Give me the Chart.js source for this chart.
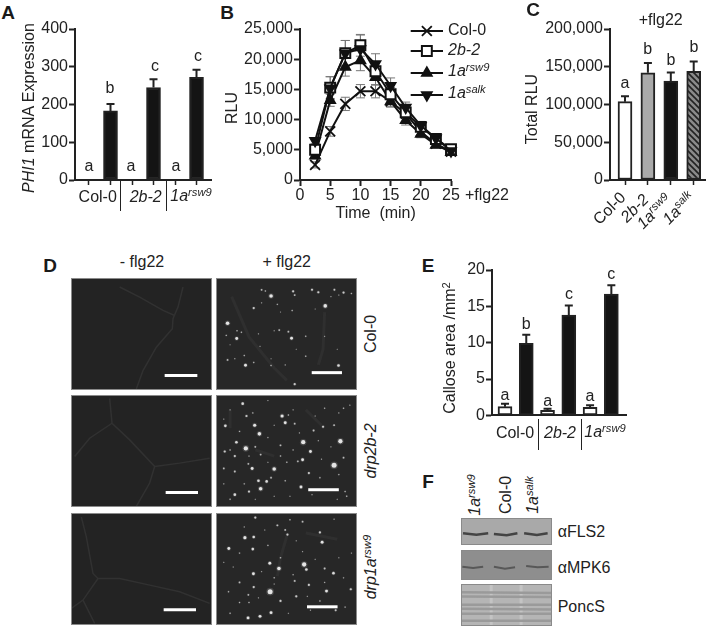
<!DOCTYPE html>
<html><head><meta charset="utf-8">
<script src="https://cdn.jsdelivr.net/npm/chart.js@4"></script>
<style>
html,body{margin:0;padding:0;background:#fff;width:709px;height:626px;overflow:hidden}
canvas{position:absolute}
.t{position:absolute;font:16px 'Liberation Sans',Arial,sans-serif;color:#222;white-space:pre;line-height:1}
.t sup{font-size:70%;line-height:0;vertical-align:baseline;position:relative;top:-.45em}
.h{font-weight:bold;font-size:19px;color:#1a1a1a}
.sep{position:absolute;width:1px;background:#222}
.img{filter:blur(.6px);outline:1px solid #8a8a8a;outline-offset:-1px}
</style></head><body>
<script>
// ---------- data ----------
const barIdx6=[0,1,2,3,4,5];
const phi1Values=[0,183,0,245,0,272];
const phi1Errors=[0,18,0,22,0,20];
const phi1Letters=['a','b','a','c','a','c'];

const timeMin=[2.5,5,7.5,10,12.5,15,17.5,20,22.5,25];
const rluCol0=[2500,8050,12600,14700,14700,13000,11000,8000,6000,4700];
const rlu2b2=[5000,15300,21000,22300,18000,14200,11200,8800,6800,5100];
const rluRsw9=[4000,13200,18700,19800,17000,13000,9900,7600,5800,4600];
const rluSalk=[6500,15200,21000,21700,19200,15600,12000,9000,6900,4800];
const errCol0=[500,800,1100,1100,1100,900,800,600,500,400];
const err2b2=[500,1800,2100,1800,1500,1100,800,700,500,400];
const errRsw9=[500,1000,1500,1700,1300,900,800,600,500,400];
const errSalk=[500,1900,2100,2300,1700,1300,900,700,500,400];

const totalIdx=[0,1,2,3];
const totalValues=[103800,142000,131000,144000];
const totalErrors=[7000,13000,11500,13000];
const totalLetters=['a','b','b','b'];

const calloseValues=[1.2,9.9,0.7,13.8,1.1,16.7];
const calloseErrors=[0.4,1.2,0.2,1.3,0.3,1.2];
const calloseLetters=['a','b','a','c','a','c'];

// micrograph features: [x, y, radius]
const dotsCol0=[[690,128,2.5],[552,216,2.5],[862,160,2.5],[581,265,2],[755,264,2],[609,351,2],[904,352,1.8],[765,412,1.5],[820,108,1.5],[840,116,1.5],[891,108,1.3],[920,117,1.5],[760,113,1.5],[660,108,1.2],[672,112,1],[635,167,1.5],[710,155,1],[757,175,1],[552,334,1.2],[605,320,1],[745,243,1.2],[716,238,1.2],[800,258,1],[690,352,1],[800,322,1],[635,342,1],[582,240,1],[596,245,1],[735,350,.8],[548,255,1],[765,125,1.2],[905,125,.8],[660,150,.8],[700,240,.8],[860,258,.8],[575,330,.8],[650,250,.8],[655,290,.8],[880,130,.8],[945,120,1],[720,180,.7],[830,170,.7],[690,330,.7],[770,300,.7],[900,300,.7],[560,285,.7]];
const dots2b2=[[545,522,1.8],[600,450,1.8],[612,490,1.5],[632,480,1],[638,520,2.2],[653,548,2.5],[725,490,2.2],[745,487,1],[735,512,2],[765,515,1.2],[855,525,1.5],[825,537,1.3],[890,520,1.2],[792,575,3],[910,572,3],[580,575,1.8],[610,595,3],[543,605,1.5],[575,620,1.5],[640,590,1.2],[657,615,1.2],[815,605,2],[720,585,1.2],[790,632,2],[775,637,1.2],[890,650,3.5],[920,625,1.2],[630,660,2],[618,645,1.2],[700,662,2.5],[540,660,1.2],[575,670,1.3],[650,700,1.8],[676,702,1.8],[657,726,2.5],[575,745,1.8],[605,710,1],[785,720,2],[810,675,1.5],[845,690,1],[905,680,1],[925,735,1],[930,750,1],[870,730,1],[540,710,.9],[620,735,1.5],[690,690,1.2],[735,700,1],[740,640,1],[720,620,1],[760,600,.9],[560,600,1],[590,540,1],[680,560,.9],[620,620,.9],[860,465,.9],[920,465,1],[940,455,.8],[905,480,.8],[830,490,.8],[680,440,.8],[760,470,.8],[560,470,.8],[540,500,.8],[700,520,.8],[780,545,.8],[840,570,.8],[880,590,.8],[680,640,.8],[850,630,.8],[560,760,1],[640,760,.8],[700,750,.8],[750,750,.8],[820,745,.8],[900,760,.8]];
const dotsRsw9=[[607,855,2.2],[635,853,1.8],[556,890,2],[632,892,1.8],[686,938,2],[634,972,2],[795,942,3],[802,958,1.8],[888,970,1.8],[852,870,2],[845,838,1.5],[790,803,1.2],[715,955,2.5],[687,1030,3.5],[866,1028,2],[943,1022,1.5],[810,1008,1.5],[770,1045,1.5],[720,1060,1.5],[690,1098,2],[655,1110,2],[617,1115,2],[860,1000,.9],[590,1000,1.2],[618,1040,1.2],[635,1015,1.5],[765,995,1.3],[760,975,.9],[742,845,1.5],[710,815,1.3],[735,830,1.2],[590,905,1],[680,880,1],[860,955,1.3],[920,985,.9],[845,1060,1],[895,1090,1.3],[925,1080,1],[640,790,1.5],[750,797,1],[890,795,.8],[620,1065,1],[590,1065,1],[555,1030,1],[570,950,.8],[660,965,.8],[720,920,1],[790,900,.8],[830,925,.8],[650,1050,.8],[745,1100,.8],[815,1090,.8],[560,1100,1],[700,985,1],[700,1005,.8],[905,920,.8],[945,905,.8],[540,935,.8],[605,820,.8],[670,830,.8],[770,865,.8],[805,1045,.8]];
const veinsL1=[[[240,110],[300,140],[370,180],[405,195]],[[430,110],[415,170],[400,205],[398,235],[350,290],[310,360],[290,415]]];
const veinsL2=[[[210,445],[217,520],[150,565],[105,620]],[[217,520],[270,570],[345,650],[330,700],[290,770]],[[345,650],[420,640],[510,625]]];
const veinsL3=[[[125,800],[140,860],[160,970],[175,985],[130,1050],[95,1075]],[[175,985],[240,985],[330,1005],[420,1025],[510,1060]],[[130,1050],[165,1120]]];
const veinsR1=[[[565,130],[620,260],[700,360],[740,400]],[[860,180],[855,300],[840,350]]];
const veinsR2=[[[560,470],[560,530]],[[800,470],[850,520]],[[640,600],[700,620]]];
const veinsR3=[[[740,850],[720,920],[710,980]],[[800,840],[900,860]]];
const barsL=[[375,473,375],[378,475,728],[372,469,1079]];
const barsR=[[819,915,375],[808,905,729],[804,901,1079]];

// blot bands
const bandsFLS2=[[[130,206],[170,210],[205,206]],[[222,208],[260,212],[292,206]],[[312,206],[350,211],[382,206]]];
const bandsMPK6=[[[128,304],[160,308],[190,304]],[[222,304],[255,310],[285,306]],[[318,302],[352,306],[385,304]]];
const bandsPonc=[[[124,382],[395,384]],[[124,395],[395,396]],[[124,420],[395,420]],[[124,432],[395,434]],[[124,447],[395,447]],[[124,468],[395,468]]];
const laneGaps=[[[214,357],[214,484]],[[303,357],[303,484]]];

// ---------- helpers ----------
const INK='#222';
const FONT="'Liberation Sans', Arial, sans-serif";
Chart.defaults.font.family=FONT;
Chart.defaults.font.size=16;
Chart.defaults.color=INK;
Chart.defaults.animation=false;
Chart.defaults.responsive=false;

function T(html,x,y,o={}){
  const e=document.createElement('div');e.className='t '+(o.cls||'');e.innerHTML=html;
  e.style.left=x+'px';e.style.top=y+'px';
  const r=o.rot||0;
  if(o.right){e.style.transformOrigin='100% 50%';e.style.transform=`translate(-100%,-50%) rotate(${r}deg)`;}
  else if(o.left){e.style.transform='translateY(-50%)';}
  else{e.style.transform=`translate(-50%,-50%) rotate(${r}deg)`;}
  if(o.size)e.style.fontSize=o.size+'px';
  document.body.appendChild(e);
}
function sep(x,y0,y1){const d=document.createElement('div');d.className='sep';d.style.left=Math.round(x)+'px';d.style.top=y0+'px';d.style.height=(y1-y0)+'px';document.body.appendChild(d);}
function cv(l,t,w,h,cls){const c=document.createElement('canvas');c.width=w;c.height=h;c.style.left=l+'px';c.style.top=t+'px';c.style.width=w+'px';c.style.height=h+'px';if(cls)c.className=cls;document.body.appendChild(c);return c;}

const errPlugin={id:'errs',
  beforeDatasetsDraw(ch,a,o){if(o.behind)drawErr(ch,o);},
  afterDatasetsDraw(ch,a,o){if(!o.behind)drawErr(ch,o);}};
function drawErr(ch,o){
  const c=ch.ctx,X=ch.scales.x,Y=ch.scales.y;c.save();c.strokeStyle=o.color;c.lineWidth=o.lw;
  o.sets.forEach(s=>s.x.forEach((xv,i)=>{
    if(!s.e[i])return;
    const px=X.getPixelForValue(xv),t=Y.getPixelForValue(s.y[i]+s.e[i]),m=Y.getPixelForValue(s.y[i]),b=o.both?Y.getPixelForValue(s.y[i]-s.e[i]):m;
    c.beginPath();c.moveTo(px,b);c.lineTo(px,t);c.moveTo(px-o.cap,t);c.lineTo(px+o.cap,t);
    if(o.both){c.moveTo(px-o.cap,b);c.lineTo(px+o.cap,b);}
    c.stroke();
  }));c.restore();
}
function yAxis(max,step,w,fmt){return{type:'linear',min:0,max,
  afterFit(s){s.width=w;},
  ticks:{stepSize:step,padding:1,color:INK,font:{size:16},callback:fmt||(v=>v)},
  grid:{drawOnChartArea:false,drawTicks:true,tickLength:6,tickWidth:2,tickColor:INK},
  border:{display:true,width:2,color:INK}};}
function xBarAxis(idx,min,max,h,tick){return{type:'linear',min,max,offset:false,
  afterBuildTicks(a){a.ticks=idx.map(v=>({value:v}));},
  afterFit(s){s.height=h;},
  ticks:{display:true,callback:()=>'',padding:0,autoSkip:false,maxRotation:0,font:{size:1}},
  grid:{offset:false,drawOnChartArea:false,drawTicks:tick,tickLength:5,tickWidth:1.5,tickColor:INK},
  border:{display:true,width:2,color:INK}};}
function barChart(c,idx,vals,errs,fills,xs,ys,pad){
  return new Chart(c,{type:'bar',plugins:[errPlugin],
    data:{datasets:[{data:idx.map((x,i)=>({x,y:vals[i]})),backgroundColor:fills,borderColor:INK,borderWidth:2,borderSkipped:false,barThickness:14,grouped:false}]},
    options:{layout:{padding:pad},scales:{x:xs,y:ys},
      plugins:{legend:{display:false},tooltip:{enabled:false},
        errs:{sets:[{x:idx,y:vals,e:errs}],color:INK,lw:2,cap:4,both:false,behind:false}}}});
}
const fmtK=v=>v.toLocaleString('en-US');
const pairFill=['#fff','#141414','#fff','#141414','#fff','#141414'];

// ---------- A ----------
barChart(cv(30,15,190,181),barIdx6,phi1Values,phi1Errors,pairFill,
  xBarAxis(barIdx6,-0.651,5.674,16,true),yAxis(400,100,45),{top:14,right:9,left:0,bottom:0});
// ---------- C ----------
const tile=document.createElement('canvas');tile.width=6;tile.height=6;
(function(){const g=tile.getContext('2d');g.fillStyle='#8a8a8a';g.fillRect(0,0,6,6);g.strokeStyle='#222';g.lineWidth=1.6;
  [-6,0,6].forEach(d=>{g.beginPath();g.moveTo(d-1,-1);g.lineTo(d+7,7);g.stroke();});})();
const hatch=tile.getContext('2d').createPattern(tile,'repeat');
barChart(cv(540,15,169,181),totalIdx,totalValues,totalErrors,['#fff','#aaa','#141414',hatch],
  xBarAxis(totalIdx,-0.655,3.493,16,true),yAxis(200000,50000,70,fmtK),{top:14,right:4,left:0,bottom:0});
// ---------- E ----------
barChart(cv(450,256,180,170),barIdx6,calloseValues,calloseErrors,pairFill,
  xBarAxis(barIdx6,-0.611,5.689,7,false),yAxis(20,5,42),{top:14,right:4,left:0,bottom:0});

// ---------- B ----------
const seriesB=[
 {name:'Col-0',y:rluCol0,e:errCol0,style:'crossRot',rot:0,r:7,fill:'#111',ord:4,lw:1.8},
 {name:'2b-2',y:rlu2b2,e:err2b2,style:'rect',rot:0,r:7,fill:'#fff',ord:2,lw:2},
 {name:'1a rsw9',y:rluRsw9,e:errRsw9,style:'triangle',rot:0,r:5.5,fill:'#111',ord:3,lw:2},
 {name:'1a salk',y:rluSalk,e:errSalk,style:'triangle',rot:180,r:5.5,fill:'#111',ord:1,lw:2}];
const legendB={id:'legendB',afterDraw(ch){
  const c=ch.ctx,ys=[31,51,73,95];c.save();
  seriesB.forEach((s,i)=>{
    const oy=ys[i]-ch.canvas.offsetTop,x0=410.7-ch.canvas.offsetLeft,x1=443-ch.canvas.offsetLeft;
    c.strokeStyle='#111';c.lineWidth=2;c.beginPath();c.moveTo(x0,oy);c.lineTo(x1,oy);c.stroke();
    c.fillStyle=s.fill;c.strokeStyle='#111';c.lineWidth=s.lw;
    Chart.helpers.drawPoint(c,{pointStyle:s.style,rotation:s.rot,radius:s.r,borderWidth:s.lw},(x0+x1)/2,oy);
  });c.restore();}};
new Chart(cv(240,15,280,195),{type:'line',plugins:[errPlugin,legendB],
  data:{datasets:seriesB.map(s=>({label:s.name,data:timeMin.map((x,i)=>({x,y:s.y[i]})),order:s.ord,clip:false,
    borderColor:'#111',borderWidth:2,tension:0,pointStyle:s.style,pointRotation:s.rot,pointRadius:s.r,
    pointBackgroundColor:s.fill,pointBorderColor:'#111',pointBorderWidth:s.lw}))},
  options:{layout:{padding:{top:14,right:69,left:0,bottom:0}},
    scales:{
      x:{type:'linear',min:0,max:25,afterFit(s){s.height=30;},
        ticks:{stepSize:5,padding:0,color:INK,font:{size:16},maxRotation:0},
        grid:{drawOnChartArea:false,drawTicks:true,tickLength:6,tickWidth:2,tickColor:INK},
        border:{display:true,width:2,color:INK}},
      y:yAxis(25000,5000,60,fmtK)},
    plugins:{legend:{display:false},tooltip:{enabled:false},
      errs:{sets:seriesB.map(s=>({x:timeMin,y:s.y,e:s.e})),color:'#777',lw:1,cap:4.5,both:true,behind:true}}}});

// ---------- D: micrographs ----------
function lineSet(pts,color,w){return{type:'scatter',showLine:true,data:pts.map(([x,y])=>({x,y})),borderColor:color,borderWidth:w,pointRadius:0,tension:0};}
function bgPlugin(col){return{id:'bg',beforeDraw(ch){const c=ch.ctx;c.save();c.fillStyle=col;c.fillRect(0,0,ch.width,ch.height);c.restore();}};}
function imgChart(l,t,w,h,bounds,sets,bg){
  return new Chart(cv(l,t,w,h,'img'),{type:'scatter',plugins:[bgPlugin(bg)],
    data:{datasets:sets},
    options:{layout:{padding:0},clip:false,
      scales:{x:{type:'linear',display:false,min:bounds[0],max:bounds[1]},y:{type:'linear',display:false,reverse:true,min:bounds[2],max:bounds[3]}},
      plugins:{legend:{display:false},tooltip:{enabled:false}}}});
}
function dotSets(d){return[
  {data:d.map(([x,y])=>({x,y})),pointRadius:d.map(p=>p[2]*.72),pointBackgroundColor:d.map(p=>`rgba(245,245,245,${Math.min(.9,.3+p[2]*.3)})`),pointBorderWidth:0},
  {data:d.map(([x,y])=>({x,y})),pointRadius:d.map(p=>p[2]*1.1),pointBackgroundColor:d.map(()=>'rgba(150,150,150,.28)'),pointBorderWidth:0}];}
function scale(b){return lineSet([[b[0],b[2]],[b[1],b[2]]],'#fff',3);}
const rows=[[83,418,278,112],[435,772,395,112],[788,1125,513,112]];
const leftSets=[veinsL1,veinsL2,veinsL3],rightSets=[veinsR1,veinsR2,veinsR3],dots=[dotsCol0,dots2b2,dotsRsw9];
rows.forEach((r,i)=>{
  imgChart(71,r[2],141,r[3],[94,517,r[0],r[1]],[scale(barsL[i]),...leftSets[i].map(v=>lineSet(v,'#313131',1.5))],'#232323');
  imgChart(216,r[2],141,r[3],[528,950,r[0],r[1]],[scale(barsR[i]),...dotSets(dots[i]),...rightSets[i].map(v=>lineSet(v,'#2f2f2f',3))],'#272727');
});

// ---------- F: blots ----------
function blot(t,h,b,sets,bg){imgChart(461,t,91,h,[124,395,b[0],b[1]],sets,bg);}
blot(518,27,[160,241],bandsFLS2.map(v=>lineSet(v,'#444',2.5)),'#a9a9a9');
blot(550,30,[254,344],bandsMPK6.map(v=>lineSet(v,'#585858',2)),'#8e8e8e');
blot(584,42,[357,484],[...bandsPonc.map(v=>lineSet(v,'#9a9a9a',2.5)),...laneGaps.map(v=>lineSet(v,'#c4c4c4',3))],'#b5b5b5');

// ---------- text ----------
const I=s=>`<i>${s}</i>`;
const rsw=`<i>1a<sup>rsw9</sup></i>`, salk=`<i>1a<sup>salk</sup></i>`;
[['A',8,12],['B',227,12],['C',533,9],['D',50,265],['E',428,265],['F',428,481]].forEach(([s,x,y])=>T(s,x,y,{cls:'h'}));

// A text
T('<i>PHI1</i> mRNA Expression',29,108,{rot:-90});
[89,110,131,155,176,198].forEach((x,i)=>T(phi1Letters[i],x,[166,88,166,66,166,56][i]));
T('Col-0',97.7,197);T(I('2b-2'),145.7,197);T(rsw,191,196);
sep(120.3,180,211);sep(166,180,211);
// B text
T('RLU',232,108,{rot:-90});
T('Time  (min)',375.7,213);T('+flg22',487,195);
T('Col-0',448,30,{left:1});T(I('2b-2'),448,50,{left:1});T(rsw,448,71,{left:1});T(salk,448,93,{left:1});
// C text
T('Total RLU',532,109,{rot:-90});T('+flg22',660.7,20);
[625,647.7,671,694].forEach((x,i)=>T(totalLetters[i],x,[83,49,60,47][i]));
T('Col-0',623,195,{right:1,rot:-45});T(I('2b-2'),646,197,{right:1,rot:-45});T(rsw,669,197,{right:1,rot:-45});T(salk,692,195,{right:1,rot:-45});
// D text
T('- flg22',142,262);T('+ flg22',286.7,262);
T('Col-0',371,334,{rot:-90});T(I('drp2b-2'),371,451,{rot:-90});T('<i>drp1a<sup>rsw9</sup></i>',371,567,{rot:-90});
// E text
T('Callose area /mm<sup>2</sup>',450,348,{rot:-90});
[505,526.3,547.7,569,590,611.3].forEach((x,i)=>T(calloseLetters[i],x,[395,324,401,294,396,274][i]));
T('Col-0',515,433);T(I('2b-2'),560,433);T(rsw,605,432);
sep(538,419,450);sep(580.7,419,450);
// F text
T(rsw,475,495,{rot:-90});T('Col-0',505.7,495,{rot:-90});T(salk,533,495,{rot:-90});
T('αFLS2',557.7,531.7,{left:1});T('αMPK6',557.7,568,{left:1});T('PoncS',557.7,607,{left:1});
</script>
</body></html>
